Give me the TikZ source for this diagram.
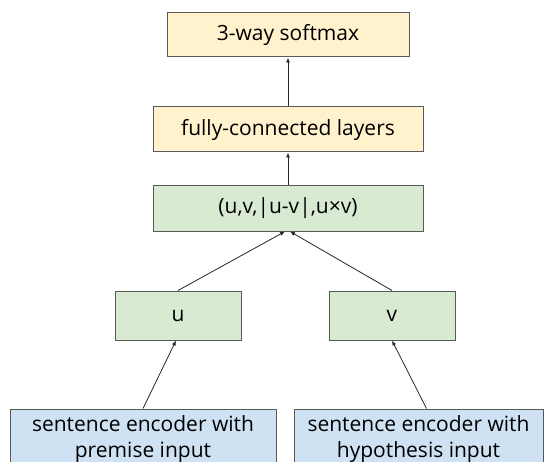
\documentclass[tikz,border=0pt]{standalone}
\usepackage{fontspec}
\setmainfont{Open Sans}
\usetikzlibrary{arrows.meta}
\definecolor{layeryellow}{HTML}{FFF2CC}
\definecolor{vecgreen}{HTML}{D9EAD3}
\definecolor{encblue}{HTML}{CFE2F3}
\definecolor{edgegray}{HTML}{595959}
\tikzset{
  layer/.style={rectangle, align=center, draw=edgegray, line width=1pt, inner sep=0pt,
    font=\fontsize{21}{26}\selectfont},
  flow/.style={-{Latex[length=5pt,width=4pt]}, draw=black!85, line width=0.8pt}
}
\begin{document}
\begin{tikzpicture}[x=1pt,y=-1pt]
\useasboundingbox (0,0) rectangle (553,462);
%Nodes:
\node[layer, fill=layeryellow, minimum width=242pt, minimum height=44pt] (softmax) at (288,35) {3-way softmax};
\node[layer, fill=layeryellow, minimum width=270pt, minimum height=45pt] (fc) at (288,129.5) {fully-connected layers};
\node[layer, fill=vecgreen, minimum width=270pt, minimum height=45pt] (concat) at (288,208.5) {(u,v,|u-v|,u×v)};
\node[layer, fill=vecgreen, minimum width=126pt, minimum height=49pt] (u) at (178,315.5) {u};
\node[layer, fill=vecgreen, minimum width=126pt, minimum height=49pt] (v) at (392,315.5) {v};
\node[layer, fill=encblue, minimum width=266pt, minimum height=60pt] (encp) at (143,439) {sentence encoder with\\premise input};
\node[layer, fill=encblue, minimum width=249pt, minimum height=60pt] (ench) at (418.5,439) {sentence encoder with\\hypothesis input};
%Edges:
\draw[flow] (fc.north) -- (softmax.south);
\draw[flow] (concat.north) -- (fc.south);
\draw[flow] (u.north) -- ([xshift=-3pt]concat.south);
\draw[flow] (v.north) -- ([xshift=2pt]concat.south);
\draw[flow] (encp.north) -- ([xshift=-2pt]u.south);
\draw[flow] ([xshift=8pt]ench.north) -- (v.south);
\end{tikzpicture}
\end{document}
